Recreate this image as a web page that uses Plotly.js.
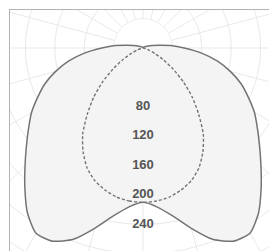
<!DOCTYPE html>
<html><head><meta charset="utf-8">
<script src="https://cdn.plot.ly/plotly-3.0.1.min.js"></script>
<style>
html,body{margin:0;padding:0;background:#fff;width:269px;height:251px;overflow:hidden;}
#frame{position:absolute;left:9px;top:9px;width:260px;height:242px;border-left:1px solid #b3b3b3;border-top:1px solid #b3b3b3;overflow:hidden;background:#fff;}
#chart{position:absolute;left:-161px;top:-256px;width:588px;height:588px;}
</style></head>
<body><div id="frame"><div id="chart"></div></div>
<script>
// gamma angles (degrees from nadir), one half-plane
const gamma = [0,5,10,15,20,25,30,35,40,45,50,55,60,65,70,75,80,85,90,95,100,105,110,115,120,125,130,135,140,145,150,155,160,165,170,175,180];
// C0-C180 plane (solid, filled)
const planeC0 = [210,217,232,254,277,290,291,274,250,227,207,190,175,158,142,123,103,80,56,38,22,13,8,6,4,3,2,2,1,1,1,1,0,0,0,0,0];
// C90-C270 plane (dashed)
const planeC90 = [210,209,206,200,192,180,163,143,118,95,72,50,32,18,9,4,2,1,0,0,0,0,0,0,0,0,0,0,0,0,0,0,0,0,0,0,0];
// radial tick labels
const tickValues = [80,120,160,200,240];
const tickLabels = ['80','120','160','200','240'];
const innerRadius = 40;

function fullTheta(g){ return g.concat(g.slice(1,-1).reverse().map(a=>360-a)).concat([360]); }
function fullR(v){ return v.concat(v.slice(1,-1).reverse()).concat([v[0]]); }

const th = fullTheta(gamma);
const traces = [
  { type:'scatterpolar', mode:'lines', r: th.map(()=>innerRadius-0.6), theta: th,
    fill:'toself', fillcolor:'#ffffff', line:{width:0, color:'#ffffff'}, hoverinfo:'skip' },
  { type:'scatterpolar', mode:'lines', r: fullR(planeC0), theta: th,
    fill:'toself', fillcolor:'#f4f4f4', line:{color:'#737373', width:1.5, shape:'spline', smoothing:0.6} },
  { type:'scatterpolar', mode:'lines', r: fullR(planeC90), theta: th,
    line:{color:'#737373', width:1.4, dash:'3px,2px', shape:'spline', smoothing:0.6} },
  { type:'scatterpolar', mode:'text', r: tickValues, theta: tickValues.map(()=>0),
    text: tickLabels, textposition:'middle center',
    textfont:{family:'Liberation Sans, Arial, sans-serif', size:13, color:'#555555', weight:'bold'} }
];
const layout = {
  width:588, height:588, margin:{l:0,r:0,t:0,b:0,pad:0},
  paper_bgcolor:'#ffffff', showlegend:false,
  polar:{
    domain:{x:[0,1], y:[0,1]}, bgcolor:'#ffffff',
    radialaxis:{range:[0,400], tick0:0, dtick:40, showticklabels:false, ticks:'', showline:false, gridcolor:'#e9e9e9', gridwidth:1},
    angularaxis:{rotation:-90, direction:'clockwise', tick0:0, dtick:15, showticklabels:false, ticks:'', showline:false, gridcolor:'#e9e9e9', gridwidth:1}
  }
};
Plotly.newPlot('chart', traces, layout, {staticPlot:true, displayModeBar:false});
</script></body></html>
